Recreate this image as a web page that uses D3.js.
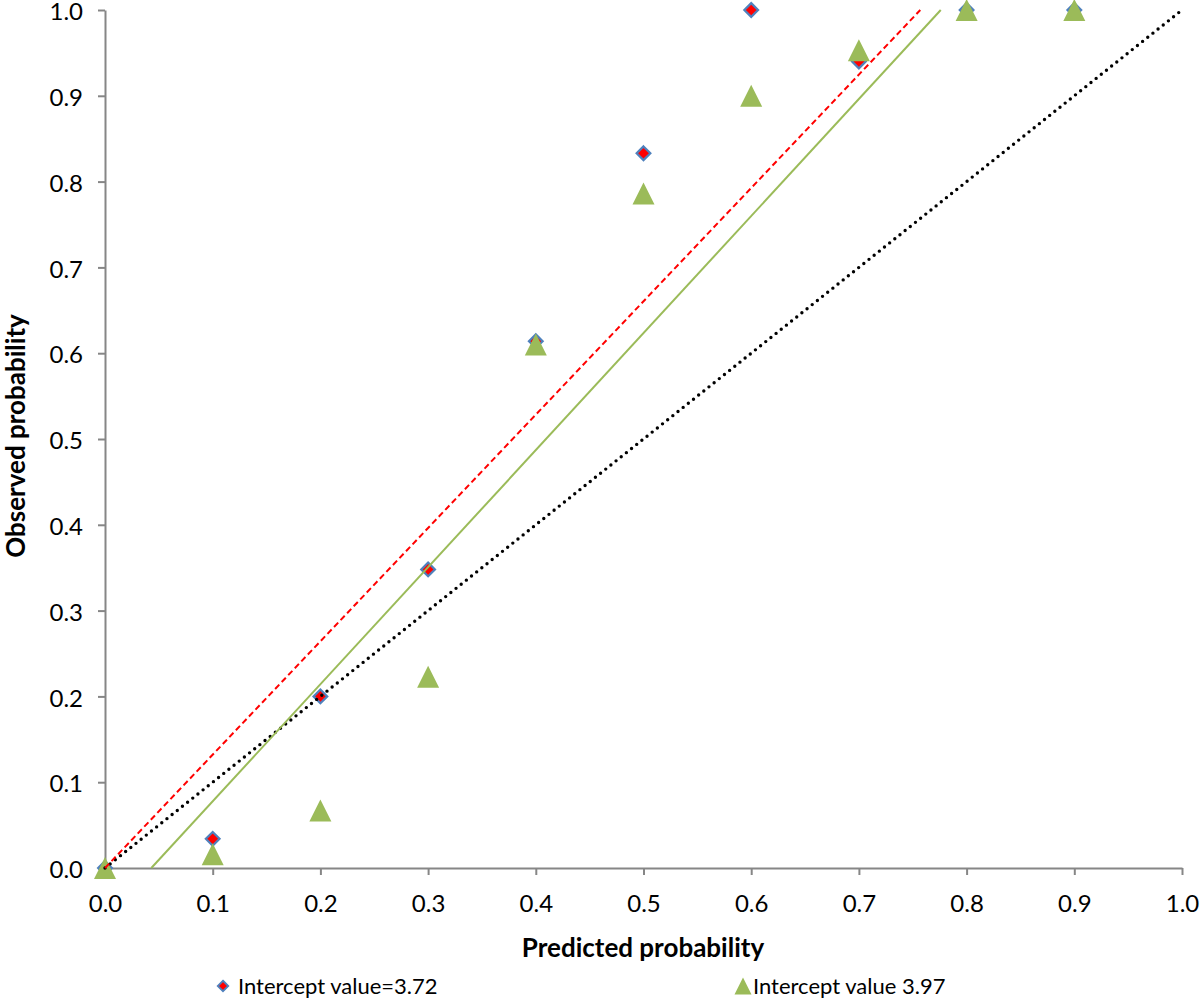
<!DOCTYPE html>
<html><head><meta charset="utf-8">
<script src="https://cdn.jsdelivr.net/npm/d3@7"></script>
<style>
body{margin:0;background:#fff;}
svg{display:block;font-family:Lato,"Open Sans",sans-serif;}
</style></head>
<body>
<svg id="chart" width="1200" height="1003"></svg>
<script>
const predicted = [0, 0.1, 0.2, 0.3, 0.4, 0.5, 0.6, 0.7, 0.8, 0.9];
const observed372 = [0, 0.034, 0.2, 0.348, 0.614, 0.833, 1.0, 0.94, 1.0, 1.0];
const observed397 = [0, 0.016, 0.067, 0.223, 0.61, 0.786, 0.9, 0.953, 1.0, 1.0];
const idealX = [0, 1], idealY = [0, 1];
const fit372X = [0, 0.757], fit372Y = [0, 1];
const fit397X = [0.043, 0.776], fit397Y = [0, 1];
const tickValues = [0, 0.1, 0.2, 0.3, 0.4, 0.5, 0.6, 0.7, 0.8, 0.9, 1.0];
const seriesNames = ["Intercept value=3.72", "Intercept value 3.97"];
const xTitle = "Predicted probability", yTitle = "Observed probability";

const svg = d3.select("#chart");
const x = d3.scaleLinear().domain([0, 1]).range([105, 1182]);
const y = d3.scaleLinear().domain([0, 1]).range([868, 10]);
const axisColor = "#868686";
const fmt = d3.format(".1f");

// axes
const gx = svg.append("g").attr("transform", `translate(0,${y(0)})`)
  .call(d3.axisBottom(x).tickValues(tickValues).tickFormat(fmt).tickSize(7).tickSizeOuter(0).tickPadding(20));
const gy = svg.append("g").attr("transform", `translate(${x(0)},0)`)
  .call(d3.axisLeft(y).tickValues(tickValues).tickFormat(fmt).tickSize(7).tickSizeOuter(0).tickPadding(15));
[gx, gy].forEach(g => {
  g.select(".domain").attr("stroke", axisColor).attr("stroke-width", 2);
  g.selectAll(".tick line").attr("stroke", axisColor).attr("stroke-width", 2);
  g.selectAll(".tick text").attr("fill", "#000").style("font-size", "24px").style("font-family", "Lato, sans-serif");
});
gy.selectAll(".tick text").attr("dy", "0.4em");

// markers
const diamond = d3.symbol().type(d3.symbolDiamond2).size(120);
svg.append("g").selectAll("path").data(predicted).join("path")
  .attr("d", diamond)
  .attr("transform", (d, i) => `translate(${x(d)},${y(observed372[i])})`)
  .attr("fill", "#ff0000").attr("stroke", "#4f81bd").attr("stroke-width", 2.2);

const tri = (cx, cy, w) => `M${cx},${cy - w/2}L${cx + w/2},${cy + w/2}L${cx - w/2},${cy + w/2}Z`;
svg.append("g").selectAll("path").data(predicted).join("path")
  .attr("d", (d, i) => tri(x(d), y(observed397[i]), 22))
  .attr("fill", "#9bbb59");

// lines
const line = d3.line().x(d => x(d[0])).y(d => y(d[1]));
svg.append("path").datum(idealX.map((v, i) => [v, idealY[i]])).attr("d", line)
  .attr("fill", "none").attr("stroke", "#000").attr("stroke-width", 3.4)
  .attr("stroke-linecap", "round").attr("stroke-dasharray", "0,6.6");
svg.append("path").datum(fit372X.map((v, i) => [v, fit372Y[i]])).attr("d", line)
  .attr("fill", "none").attr("stroke", "#ff0000").attr("stroke-width", 2)
  .attr("stroke-dasharray", "6,3.5");
svg.append("path").datum(fit397X.map((v, i) => [v, fit397Y[i]])).attr("d", line)
  .attr("fill", "none").attr("stroke", "#9bbb59").attr("stroke-width", 2);

// axis titles
svg.append("text").attr("x", 643).attr("y", 957).attr("text-anchor", "middle")
  .style("font-size", "26px").style("font-weight", "bold").text(xTitle);
svg.append("text").attr("transform", "translate(25,436) rotate(-90)").attr("text-anchor", "middle")
  .style("font-size", "26px").style("font-weight", "bold").text(yTitle);

// legend
const lg = svg.append("g");
lg.append("path").attr("d", d3.symbol().type(d3.symbolDiamond2).size(70))
  .attr("transform", "translate(223,986)")
  .attr("fill", "#ff0000").attr("stroke", "#4f81bd").attr("stroke-width", 1.8);
lg.append("text").attr("x", 238).attr("y", 994).style("font-size", "22px").text(seriesNames[0]);
lg.append("path").attr("d", tri(743, 986, 17)).attr("fill", "#9bbb59");
lg.append("text").attr("x", 753).attr("y", 994).style("font-size", "22px").text(seriesNames[1]);
</script>
</body></html>
